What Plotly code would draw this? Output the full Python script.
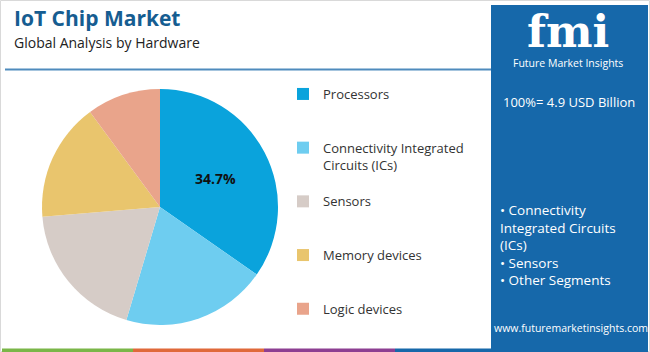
import plotly.graph_objects as go

# ---- data ----
segments = ["Processors", "Connectivity Integrated Circuits (ICs)", "Sensors", "Memory devices", "Logic devices"]
legend_labels = ["Processors", "Connectivity Integrated<br>Circuits (ICs)", "Sensors", "Memory devices", "Logic devices"]
shares = [34.7, 19.9, 19.1, 16.2, 10.1]
slice_text = ["34.7%", "", "", "", ""]
colors = ["#0aa3dc", "#6ecdf0", "#d6ccc7", "#e9c56d", "#e9a48b"]

title = "IoT Chip Market"
subtitle = "Global Analysis by Hardware"
market_total = "100%= 4.9 USD Billion"
key_segments = ["Connectivity", "Integrated Circuits", "(ICs)"]
other_bullets = ["Sensors", "Other Segments"]
url = "www.futuremarketinsights.com"

W, H = 650, 352
FONT = "Open Sans"
PANEL = "#1668aa"

def px(x):
    return x / W

def py(y):
    return 1 - y / H

# pad legend labels to three lines each so spacing matches
padded = []
for lab in legend_labels:
    n = lab.count("<br>") + 1
    padded.append(lab + "<br>&nbsp;" * (3 - n))

fig = go.Figure()
fig.add_trace(go.Pie(
    labels=padded,
    values=shares,
    text=slice_text,
    textinfo="text",
    textposition="inside",
    insidetextorientation="horizontal",
    textfont=dict(family=FONT, size=14, color="#111111", weight="bold"),
    marker=dict(colors=colors, line=dict(width=0)),
    sort=False,
    direction="clockwise",
    rotation=0,
    domain=dict(x=[px(42), px(278)], y=[py(325), py(89)]),
    hovertext=segments,
    hoverinfo="text+percent",
))

shapes = [
    # outer border
    dict(type="rect", xref="paper", yref="paper", x0=0.0008, x1=0.9992, y0=0.0014, y1=0.9986,
         line=dict(color="#d9d9d9", width=1), fillcolor="rgba(0,0,0,0)", layer="below"),
    # title rule
    dict(type="line", xref="paper", yref="paper", x0=px(5), x1=px(491), y0=py(69.5), y1=py(69.5),
         line=dict(color="#4f8bbd", width=2)),
    # right panel
    dict(type="rect", xref="paper", yref="paper", x0=px(491), x1=px(648), y0=py(349), y1=py(5),
         line=dict(width=0), fillcolor=PANEL, layer="below"),
]
strip = [("#7ab648", 2, 133), ("#e0693a", 133, 264), ("#8d3f92", 264, 395), (PANEL, 395, 648)]
for c, a, b in strip:
    shapes.append(dict(type="rect", xref="paper", yref="paper", x0=px(a), x1=px(b), y0=py(352), y1=py(348.5),
                       line=dict(width=0), fillcolor=c))

annotations = [
    dict(text="<b>%s</b>" % title, x=px(12), y=py(18), xanchor="left", yanchor="middle",
         font=dict(family=FONT, size=21, color="#165d91"), showarrow=False),
    dict(text=subtitle, x=px(12), y=py(42), xanchor="left", yanchor="middle",
         font=dict(family=FONT, size=14, color="#222222"), showarrow=False),
    # logo
    dict(text="<b>fmi</b>", x=px(568), y=py(31), xanchor="center", yanchor="middle",
         font=dict(family="DejaVu Serif", size=44, color="white"), showarrow=False),
    dict(text="Future Market Insights", x=px(568), y=py(63), xanchor="center", yanchor="middle",
         font=dict(family=FONT, size=10.5, color="white"), showarrow=False),
    dict(text=market_total, x=px(569), y=py(102), xanchor="center", yanchor="middle",
         font=dict(family=FONT, size=13, color="white"), showarrow=False),
    dict(text="• " + key_segments[0] + "<br>" + "<br>".join(key_segments[1:]) + "<br>" +
              "<br>".join("• " + b for b in other_bullets),
         x=px(498), y=py(199), xanchor="left", yanchor="top", align="left",
         font=dict(family=FONT, size=13.5, color="white"), showarrow=False),
    dict(text=url, x=px(571), y=py(328), xanchor="center", yanchor="middle",
         font=dict(family=FONT, size=10.5, color="white"), showarrow=False),
]

fig.update_layout(
    width=W, height=H,
    margin=dict(l=0, r=0, t=0, b=0, autoexpand=False),
    paper_bgcolor="white",
    plot_bgcolor="white",
    shapes=shapes,
    annotations=annotations,
    showlegend=True,
    legend=dict(x=px(283), y=py(79), xanchor="left", yanchor="top",
                valign="top", traceorder="normal",
                font=dict(family=FONT, size=13, color="#333333"),
                bgcolor="rgba(0,0,0,0)", itemclick=False, itemdoubleclick=False),
)

fig.write_html("out.html")
